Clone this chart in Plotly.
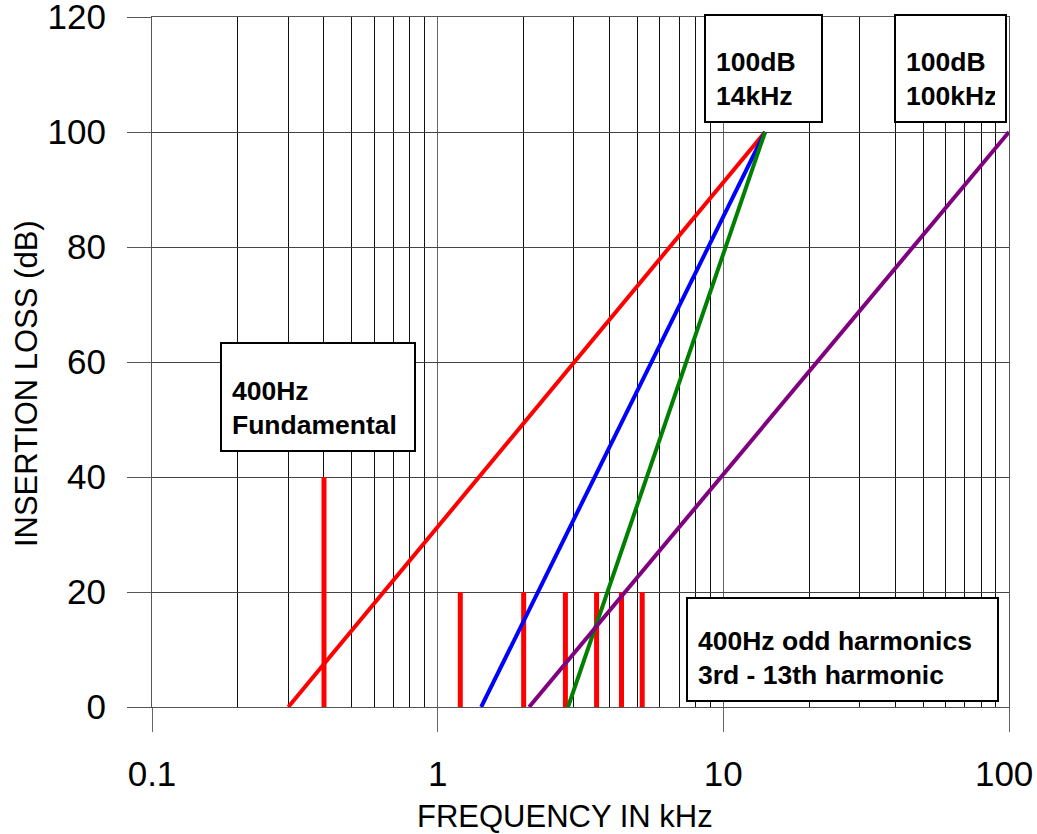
import plotly.graph_objects as go

# ---- data ----
red_freq = [0.3, 14]
red_loss = [0, 100]
blue_freq = [1.42, 14]
blue_loss = [0, 100]
green_freq = [2.86, 14]
green_loss = [0, 100]
purple_freq = [2.09, 100]
purple_loss = [0, 100]

harmonic_freq = [0.4, 1.2, 2.0, 2.8, 3.6, 4.4, 5.2]
harmonic_level = [40, 20, 20, 20, 20, 20, 20]

x_tickvals = [0.1, 1, 10, 100]
x_ticktext = ["0.1", "1", "10", "100&nbsp;"]
y_tickvals = [0, 20, 40, 60, 80, 100, 120]

FONT = "Arial, Liberation Sans, sans-serif"

fig = go.Figure()

# harmonic bars as vertical line segments
bx, by = [], []
for f, h in zip(harmonic_freq, harmonic_level):
    bx += [f, f, None]
    by += [0, h, None]
fig.add_trace(go.Scatter(x=bx, y=by, mode="lines",
                         line=dict(color="#FF0000", width=5), showlegend=False))

for xs, ys, col in [(red_freq, red_loss, "#FF0000"),
                    (blue_freq, blue_loss, "#0000FF"),
                    (green_freq, green_loss, "#008000"),
                    (purple_freq, purple_loss, "#800080")]:
    fig.add_trace(go.Scatter(x=xs, y=ys, mode="lines",
                             line=dict(color=col, width=4), showlegend=False))

def box(text, xlog, y, w, h):
    fig.add_annotation(x=xlog, y=y, xref="x", yref="y", text=text,
                       showarrow=False, xanchor="center", yanchor="middle",
                       align="left", valign="bottom", width=w, height=h,
                       bgcolor="white", bordercolor="black", borderwidth=2,
                       borderpad=10,
                       font=dict(family=FONT, size=26.5, color="black", weight="bold"))

box("100dB<br>14kHz", 1.1406, 111.0, 95, 85)
box("100dB<br>100kHz", 1.7951, 111.0, 89, 85)
box("400Hz<br>Fundamental", -0.4189, 53.9, 172, 86)
box("400Hz odd harmonics<br>3rd - 13th harmonic", 1.4171, 10.0, 289, 81)

# axis titles
fig.add_annotation(text="FREQUENCY IN kHz", xref="paper", yref="paper",
                   x=0.4819, y=-0.158, xanchor="center", yanchor="middle",
                   showarrow=False, font=dict(family=FONT, size=31, color="black"))
fig.add_annotation(text="INSERTION LOSS (dB)", xref="paper", yref="paper",
                   x=-0.147, y=0.468, xanchor="center", yanchor="middle",
                   textangle=-90, showarrow=False,
                   font=dict(family=FONT, size=31, color="black"))

fig.update_xaxes(type="log", range=[-1, 2], automargin=False,
                 tickvals=x_tickvals, ticktext=x_ticktext,
                 ticks="outside", ticklen=24, tickcolor="#666", tickwidth=1,
                 ticklabelstandoff=12, ticklabeloverflow="allow",
                 showgrid=True, gridcolor="#666", gridwidth=1,
                 minor=dict(dtick="D1", showgrid=True, gridcolor="#111", gridwidth=1, ticks=""),
                 showline=True, mirror=True, linecolor="#555", linewidth=1,
                 zeroline=False,
                 tickfont=dict(family=FONT, size=35, color="black"))
fig.update_yaxes(range=[0, 120], tickvals=y_tickvals, automargin=False,
                 ticks="outside", ticklen=24, tickcolor="#555", tickwidth=1,
                 ticklabelstandoff=14, ticklabeloverflow="allow",
                 showgrid=True, gridcolor="#444", gridwidth=1,
                 showline=True, mirror=True, linecolor="#555", linewidth=1,
                 zeroline=False,
                 tickfont=dict(family=FONT, size=35, color="black"))

fig.update_layout(width=1037, height=834,
                  margin=dict(l=152, r=28, t=17, b=127),
                  plot_bgcolor="white", paper_bgcolor="white",
                  showlegend=False)

# remove the page's default 8px body margin so the figure fills the window
fig.write_html("out.html", config={"displayModeBar": False},
               post_script="document.body.style.margin='0';document.body.style.overflow='hidden';")
